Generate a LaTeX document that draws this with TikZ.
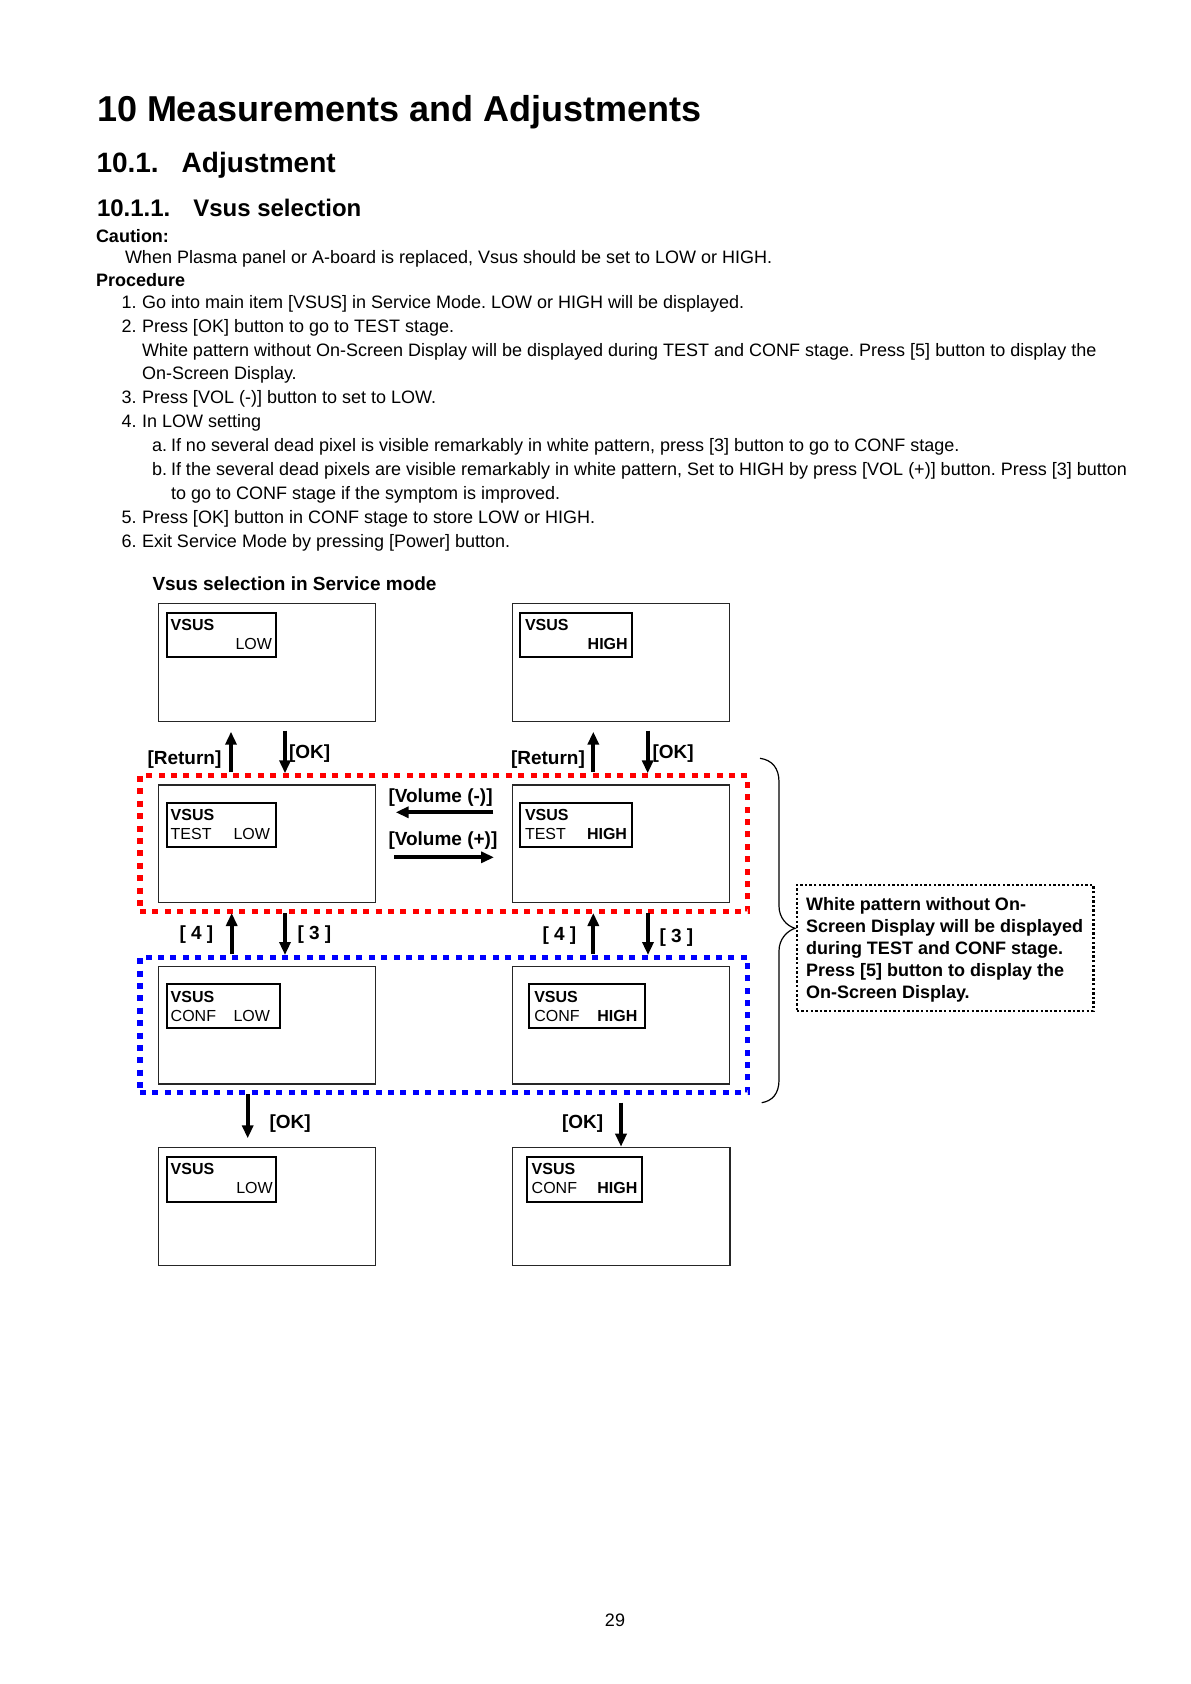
\documentclass[tikz,border=0pt]{standalone}
\usepackage{fontspec}
\setmainfont{Liberation Sans}
\usetikzlibrary{arrows.meta,fit}
\frenchspacing
\begin{document}
\begin{tikzpicture}[x=0.5pt,y=-0.5pt,
  every node/.style={inner sep=0pt,outer sep=0pt},
  txt/.style={anchor=base west,font=\fontsize{9}{11}\selectfont},
  txtb/.style={anchor=base west,font=\fontsize{9}{11}\selectfont\bfseries},
  lbl/.style={anchor=base west,font=\fontsize{9.5}{11}\selectfont\bfseries},
  screen/.style={draw=black!85,line width=0.6pt},
  lcd/.style={draw=black,line width=1.1pt},
  lcdb/.style={anchor=base west,font=\fontsize{8}{9}\selectfont\bfseries},
  lcdr/.style={anchor=base west,font=\fontsize{8}{9}\selectfont},
  redframe/.style={draw=red,line width=2.7pt,dash pattern=on 3pt off 3.2pt},
  blueframe/.style={draw=blue,line width=2.7pt,dash pattern=on 3pt off 3.2pt},
  noteframe/.style={draw=black,line width=1.2pt,dash pattern=on 1.2pt off 1.1pt},
  arr/.style={line width=2pt,-{Triangle[length=6.5pt,width=5.5pt]}},
  brace/.style={draw=black,line width=0.6pt}
]
\useasboundingbox[fill=white] (0,0) rectangle (1190,1684);

% ---------- headings ----------
\node[anchor=base west,font=\fontsize{18}{20}\selectfont\bfseries] (title) at (97,121.7) {10 Measurements and Adjustments};
\node[anchor=base west,font=\fontsize{14}{16}\selectfont\bfseries] (h2num) at (96.5,172.3) {10.1.};
\node[anchor=base west,font=\fontsize{14}{16}\selectfont\bfseries] (h2) at (181.7,172.3) {Adjustment};
\node[anchor=base west,font=\fontsize{12}{14}\selectfont\bfseries] (h3num) at (97,216.7) {10.1.1.};
\node[anchor=base west,font=\fontsize{12}{14}\selectfont\bfseries] (h3) at (193.3,216.7) {Vsus selection};
\node[txtb] (caution) at (96,242.7) {Caution:};
\node[txt] (cautiontxt) at (125,263.3) {When Plasma panel or A-board is replaced, Vsus should be set to LOW or HIGH.};
\node[txtb] (proc) at (96,286.7) {Procedure};

\node[txt] (n1) at (121.5,308.3) {1.};
\node[txt] (t1) at (142,308.3) {Go into main item [VSUS] in Service Mode. LOW or HIGH will be displayed.};
\node[txt] (n2) at (121.5,332.2) {2.};
\node[txt] (t2) at (142,332.2) {Press [OK] button to go to TEST stage.};
\node[txt] (t2b) at (142,356.1) {White pattern without On-Screen Display will be displayed during TEST and CONF stage. Press [5] button to display the};
\node[txt] (t2c) at (142,380.0) {On-Screen Display.};
\node[txt] (n3) at (121.5,403.9) {3.};
\node[txt] (t3) at (142,403.9) {Press [VOL (-)] button to set to LOW.};
\node[txt] (n4) at (121.5,427.8) {4.};
\node[txt] (t4) at (142,427.8) {In LOW setting};
\node[txt] (na) at (152,451.7) {a.};
\node[txt] (ta) at (171,451.7) {If no several dead pixel is visible remarkably in white pattern, press [3] button to go to CONF stage.};
\node[txt] (nb) at (152,475.6) {b.};
\node[txt] (tb) at (171,475.6) {If the several dead pixels are visible remarkably in white pattern, Set to HIGH by press [VOL (+)] button. Press [3] button};
\node[txt] (tb2) at (171,499.5) {to go to CONF stage if the symptom is improved.};
\node[txt] (n5) at (121.5,523.4) {5.};
\node[txt] (t5) at (142,523.4) {Press [OK] button in CONF stage to store LOW or HIGH.};
\node[txt] (n6) at (121.5,547.3) {6.};
\node[txt] (t6) at (142,547.3) {Exit Service Mode by pressing [Power] button.};

% ---------- diagram ----------
\node[lbl] (dtitle) at (152.5,590) {Vsus selection in Service mode};

% frames
\node[redframe,fit={(140,775.7) (747.7,911.7)}] (testframe) {};
\node[blueframe,fit={(140,957.3) (747.7,1092.7)}] (confframe) {};

% screens
\node[screen,fit={(158.3,603.3) (375.7,721.3)}] (s1L) {};
\node[screen,fit={(512.3,603.3) (729.7,721.3)}] (s1R) {};
\node[screen,fit={(158.3,785) (375.7,902.7)}] (s2L) {};
\node[screen,fit={(512.3,785) (729.7,902.7)}] (s2R) {};
\node[screen,fit={(158.3,966.7) (375.7,1084)}] (s3L) {};
\node[screen,fit={(512.3,966.7) (729.7,1084)}] (s3R) {};
\node[screen,fit={(158.3,1147.7) (375.7,1265.7)}] (s4L) {};
\node[screen,fit={(512.3,1147.7) (730,1265.7)}] (s4R) {};

% lcd displays
\node[lcd,fit={(166.7,612.7) (275.7,656.7)}] (d1L) {};
\node[lcd,fit={(520,612.7) (632.3,656.7)}] (d1R) {};
\node[lcd,fit={(166.7,802.7) (275.7,846.7)}] (d2L) {};
\node[lcd,fit={(520,802.7) (631.7,846.7)}] (d2R) {};
\node[lcd,fit={(166.7,984.3) (279.7,1028.3)}] (d3L) {};
\node[lcd,fit={(529.3,984.3) (645,1028.3)}] (d3R) {};
\node[lcd,fit={(166.7,1156.7) (275.7,1201.7)}] (d4L) {};
\node[lcd,fit={(527.3,1156.7) (642.3,1201.7)}] (d4R) {};

% lcd texts
\node[lcdb] (v1L) at (170.7,630.4) {VSUS};
\node[lcdr,anchor=base east] (x1L) at (272,649.9) {LOW};
\node[lcdb] (v1R) at (525,630.4) {VSUS};
\node[lcdb,anchor=base east] (x1R) at (627.7,649.9) {HIGH};

\node[lcdb] (v2L) at (170.7,820.4) {VSUS};
\node[lcdr] (m2L) at (170.7,839.9) {TEST};
\node[lcdr,anchor=base east] (x2L) at (270,839.9) {LOW};
\node[lcdb] (v2R) at (525,820.4) {VSUS};
\node[lcdr] (m2R) at (525,839.9) {TEST};
\node[lcdb,anchor=base east] (x2R) at (627,839.9) {HIGH};

\node[lcdb] (v3L) at (170.7,1002) {VSUS};
\node[lcdr] (m3L) at (170.7,1021.5) {CONF};
\node[lcdr,anchor=base east] (x3L) at (270,1021.5) {LOW};
\node[lcdb] (v3R) at (534.3,1002) {VSUS};
\node[lcdr] (m3R) at (534.3,1021.5) {CONF};
\node[lcdb,anchor=base east] (x3R) at (637.3,1021.5) {HIGH};

\node[lcdb] (v4L) at (170.7,1174.4) {VSUS};
\node[lcdr,anchor=base east] (x4L) at (272.7,1193.9) {LOW};
\node[lcdb] (v4R) at (531.7,1174.4) {VSUS};
\node[lcdr] (m4R) at (531.7,1193.9) {CONF};
\node[lcdb,anchor=base east] (x4R) at (637.3,1193.9) {HIGH};

% arrow end points
\coordinate (rL1a) at (231,772);   \coordinate (rL1b) at (231,731.7);
\coordinate (oL1a) at (285,730.7); \coordinate (oL1b) at (285,773.3);
\coordinate (rR1a) at (593.3,772); \coordinate (rR1b) at (593.3,731.7);
\coordinate (oR1a) at (647.7,730.7); \coordinate (oR1b) at (647.7,773.3);
\coordinate (vmA) at (493.3,812.3); \coordinate (vmB) at (395.7,812.3);
\coordinate (vpA) at (394,857.3);   \coordinate (vpB) at (494,857.3);
\coordinate (fL2a) at (231.7,954);  \coordinate (fL2b) at (231.7,913);
\coordinate (tL2a) at (285,913);    \coordinate (tL2b) at (285,955);
\coordinate (fR2a) at (593.3,954);  \coordinate (fR2b) at (593.3,913);
\coordinate (tR2a) at (648,913);    \coordinate (tR2b) at (648,955);
\coordinate (kL3a) at (247.7,1094); \coordinate (kL3b) at (247.7,1138.3);
\coordinate (kR3a) at (621,1102.7); \coordinate (kR3b) at (621,1146.7);

\draw[arr] (rL1a) -- (rL1b);
\draw[arr] (oL1a) -- (oL1b);
\draw[arr] (rR1a) -- (rR1b);
\draw[arr] (oR1a) -- (oR1b);
\draw[arr] (vmA) -- (vmB);
\draw[arr] (vpA) -- (vpB);
\draw[arr] (fL2a) -- (fL2b);
\draw[arr] (tL2a) -- (tL2b);
\draw[arr] (fR2a) -- (fR2b);
\draw[arr] (tR2a) -- (tR2b);
\draw[arr] (kL3a) -- (kL3b);
\draw[arr] (kR3a) -- (kR3b);

% arrow labels
\node[lbl] (retL) at (147.5,764.5) {[Return]};
\node[lbl] (okL) at (289,758) {[OK]};
\node[lbl] (retR) at (511,764.5) {[Return]};
\node[lbl] (okR) at (652.5,758) {[OK]};
\node[lbl] (volm) at (388.5,802) {[Volume (-)]};
\node[lbl] (volp) at (388.5,845) {[Volume (+)]};
\node[lbl] (k4L) at (179.5,939.5) {[ 4 ]};
\node[lbl] (k3L) at (297.5,939.5) {[ 3 ]};
\node[lbl] (k4R) at (542.5,940) {[ 4 ]};
\node[lbl] (k3R) at (659.5,942) {[ 3 ]};
\node[lbl] (okL3) at (269.5,1128.5) {[OK]};
\node[lbl] (okR3) at (562,1128.5) {[OK]};

% brace
\coordinate (brTop) at (760,758.3);
\coordinate (brTip) at (795,928.3);
\coordinate (brBot) at (761.7,1102.7);
\draw[brace] (brTop) .. controls (772,760) and (779,768) .. (779,782)
  -- (779,906) .. controls (779,918) and (787,926) .. (brTip)
  .. controls (787,931) and (779,939) .. (779,951)
  -- (779,1080) .. controls (779,1094) and (772,1101) .. (brBot);

% note
\node[noteframe,fit={(796.7,885) (1093.3,1010.7)}] (note) {};
\node[txtb] (note1) at (806,910.4) {White pattern without On-};
\node[txtb] (note2) at (806,932.4) {Screen Display will be displayed};
\node[txtb] (note3) at (806,954.4) {during TEST and CONF stage.};
\node[txtb] (note4) at (806,976.4) {Press [5] button to display the};
\node[txtb] (note5) at (806,998.4) {On-Screen Display.};

% page number
\node[anchor=base,font=\fontsize{9}{11}\selectfont] (page) at (615,1626) {29};
\end{tikzpicture}
\end{document}
